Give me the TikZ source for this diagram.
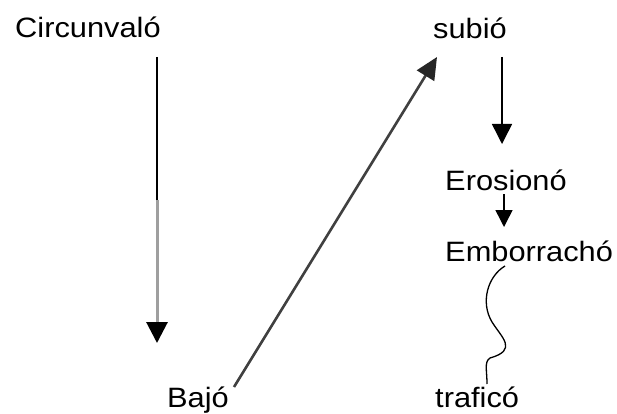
\documentclass[tikz,border=0pt]{standalone}
\usepackage{fontspec}
\usepackage{graphicx}
\setmainfont{Liberation Sans}
\usetikzlibrary{arrows.meta}
\tikzset{
  word/.style={anchor=base west, inner sep=0pt, font=\fontsize{28}{32}\selectfont},
  link/.style={line width=1.5pt, black},
  bigtip/.style={-{Triangle[width=20pt,length=20pt]}},
  smalltip/.style={-{Triangle[width=17pt,length=17pt]}},
}
\newcommand{\widetxt}[1]{\scalebox{1.1}[1]{#1}}
\begin{document}
\begin{tikzpicture}[x=1pt,y=-1pt]
\useasboundingbox (0,0) rectangle (617,414);
\fill[white] (0,0) rectangle (617,414);
\node[word] (circ) at (15,38) {\widetxt{Circunvaló}};
\node[word] (sub) at (433,39) {\widetxt{subió}};
\node[word] (ero) at (445,190) {\widetxt{Erosionó}};
\node[word] (emb) at (445,261) {\widetxt{Emborrachó}};
\node[word] (baj) at (167,407) {\widetxt{Bajó}};
\node[word] (tra) at (435,407) {\widetxt{traficó}};
% Circunvaló arrow
\coordinate (c1) at (157,57);
\coordinate (c2) at (157,200);
\coordinate (c3) at (157,343);
\draw[link] (c1) -- (c2);
\draw[line width=3pt, gray!75, -{Triangle[width=21pt,length=21pt,color=black]}] (c2) -- (c3);
% Bajó -> subió
\coordinate (b1) at (234,387);
\coordinate (s1) at (437,57);
\draw[line width=2.6pt, black!75, -{Triangle[width=20pt,length=22pt,color=black!85]}] (b1) -- (s1);
% subió -> Erosionó
\coordinate (s2) at (502,57);
\coordinate (e1) at (502,144);
\draw[link, bigtip] (s2) -- (e1);
% Erosionó -> Emborrachó
\coordinate (e2) at (504,194);
\coordinate (m1) at (504,227);
\draw[link, smalltip] (e2) -- (m1);
% Emborrachó ~ traficó
\coordinate (m2) at (505,266);
\coordinate (t1) at (487,384);
\draw[line width=1.3pt] (m2) .. controls (488,276) and (480,302) .. (492,322)
  .. controls (502,338) and (518,350) .. (490,358)
  .. controls (484,362) and (487,370) .. (t1);
\end{tikzpicture}
\end{document}
